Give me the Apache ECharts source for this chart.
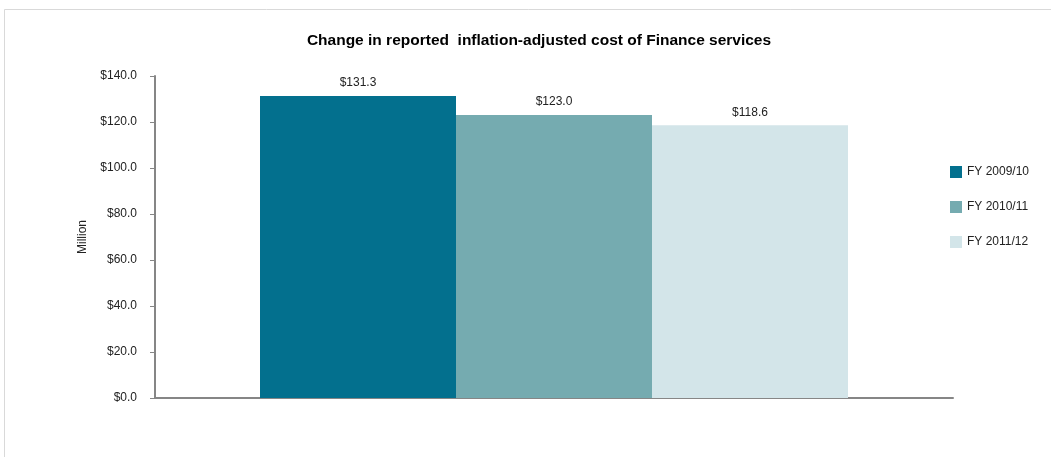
<!DOCTYPE html>
<html>
<head>
<meta charset="utf-8">
<script src="https://cdn.jsdelivr.net/npm/echarts@6/dist/echarts.min.js"></script>
<style>
  html, body { margin: 0; padding: 0; background: #fff; }
  #chart { width: 1051px; height: 457px; }
</style>
</head>
<body>
<div id="chart"></div>
<script>
// Cost of Finance services, inflation-adjusted ($ million)
const categories = ['Finance services'];
const seriesNames = ['FY 2009/10', 'FY 2010/11', 'FY 2011/12'];
const costValues = [131.3, 123.0, 118.6];
const seriesColors = ['#03708e', '#75abb0', '#d3e5e9'];
const yTicks = { min: 0, max: 140, interval: 20 };

const FONT = '"Liberation Sans", Arial, sans-serif';

const chart = echarts.init(document.getElementById('chart'), null, { renderer: 'canvas' });

const series = seriesNames.map((name, i) => ({
  name: name,
  type: 'bar',
  data: [costValues[i]],
  barWidth: 196,
  barGap: '0%',
  itemStyle: { color: seriesColors[i] },
  label: {
    show: true,
    position: 'top',
    distance: 7,
    color: '#222',
    fontFamily: FONT,
    fontSize: 12,
    formatter: p => '$' + p.value.toFixed(1)
  }
}));

chart.setOption({
  backgroundColor: '#fff',
  animation: false,
  graphic: [{
    type: 'rect',
    shape: { x: 4.5, y: 9.5, width: 1100, height: 500 },
    style: { fill: 'none', stroke: '#d9d9d9', lineWidth: 1 },
    silent: true,
    z: -10
  }],
  title: {
    text: 'Change in reported  inflation-adjusted cost of Finance services',
    left: 534,
    top: 28,
    textAlign: 'center',
    textStyle: { fontFamily: FONT, fontSize: 15.5, fontWeight: 'bold', color: '#000' }
  },
  legend: {
    orient: 'vertical',
    left: 945,
    top: 161,
    itemWidth: 12,
    itemHeight: 12,
    itemGap: 23,
    icon: 'rect',
    textStyle: { fontFamily: FONT, fontSize: 12, color: '#222' },
    data: seriesNames
  },
  grid: { left: 155, right: 98, top: 76, bottom: 59, containLabel: false },
  xAxis: {
    type: 'category',
    data: categories,
    axisLine: { show: true, lineStyle: { color: '#868686', width: 2 } },
    axisTick: { show: false },
    axisLabel: { show: false }
  },
  yAxis: {
    type: 'value',
    min: yTicks.min,
    max: yTicks.max,
    interval: yTicks.interval,
    name: 'Million',
    nameLocation: 'middle',
    nameGap: 66,
    nameTextStyle: { fontFamily: FONT, fontSize: 12, color: '#222' },
    axisLine: { show: true, lineStyle: { color: '#868686', width: 2 } },
    axisTick: { show: true, length: 5, lineStyle: { color: '#868686', width: 1 } },
    splitLine: { show: false },
    axisLabel: {
      fontFamily: FONT,
      fontSize: 12,
      color: '#222',
      margin: 18,
      formatter: v => '$' + v.toFixed(1)
    }
  },
  series: series
});
</script>
</body>
</html>
